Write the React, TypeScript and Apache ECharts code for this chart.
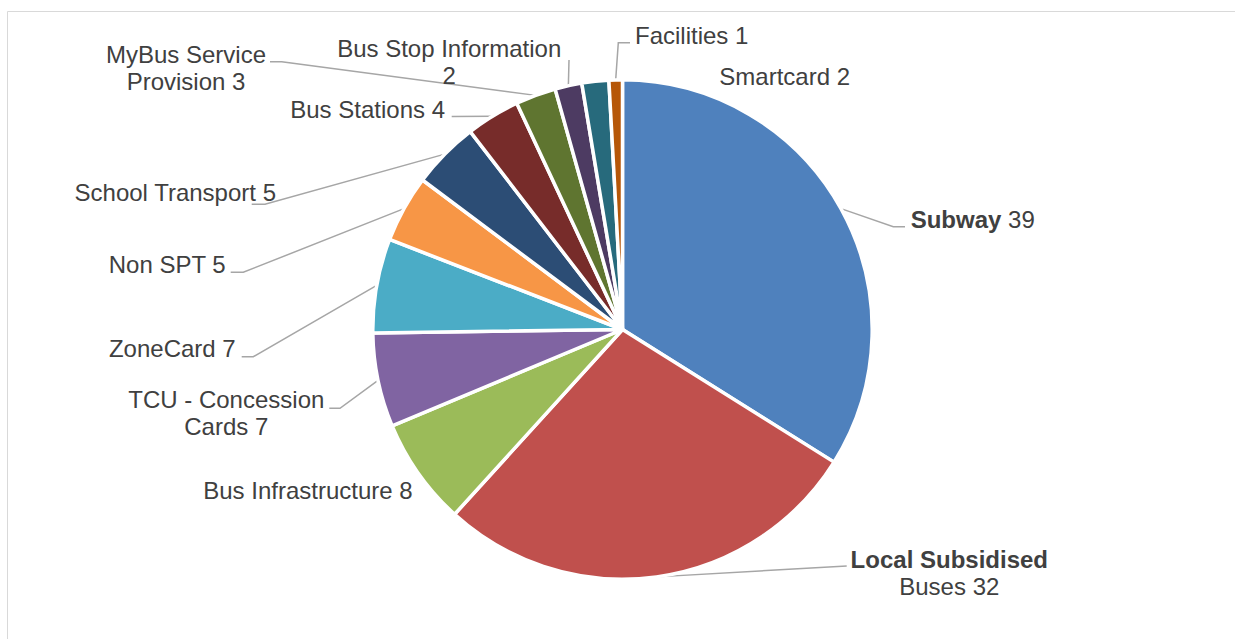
import React, { useEffect, useRef } from 'react';
import * as echarts from 'echarts';

// ---- data ----
const categories = [
  'Subway',
  'Local Subsidised Buses',
  'Bus Infrastructure',
  'TCU - Concession Cards',
  'ZoneCard',
  'Non SPT',
  'School Transport',
  'Bus Stations',
  'MyBus Service Provision',
  'Bus Stop Information',
  'Smartcard',
  'Facilities',
];
const values = [39, 32, 8, 7, 7, 5, 5, 4, 3, 2, 2, 1];

// ---- styles ----
const sliceColors = [
  '#4F81BD', '#C0504D', '#9BBB59', '#8064A2', '#4BACC6', '#F79646',
  '#2C4D75', '#772C2A', '#5F7530', '#4D3B62', '#276A7C', '#B65708',
];
// characters of the label text after which the label wraps (0 = no wrap)
const labelBreakAfter = [0, 16, 0, 16, 0, 0, 0, 0, 13, 20, 0, 0];
// number of leading characters shown in bold
const labelBoldChars = [6, 16, 0, 0, 0, 0, 0, 0, 0, 0, 0, 0];

type Pt = [number, number];
type Anchor = { x: number; y: number; align: 'left' | 'right' | 'center'; line: Pt[] | null };
// label placement (layout only)
const labelAnchors: Anchor[] = [
  { x: 910.7, y: 219, align: 'left', line: [[893.3, 226.7], [905, 226.7]] },
  { x: 949.3, y: 572.5, align: 'center', line: [[846.7, 566]] },
  { x: 412.7, y: 490.8, align: 'right', line: null },
  { x: 226.3, y: 413, align: 'center', line: [[340, 408.3], [329.3, 408.3]] },
  { x: 235.7, y: 348.3, align: 'right', line: [[253.3, 356.7], [241.7, 356.7]] },
  { x: 225.7, y: 264.3, align: 'right', line: [[243.3, 272.3], [230.7, 272.3]] },
  { x: 276, y: 192, align: 'right', line: [[265, 204.3], [251.7, 204.3]] },
  { x: 445, y: 109, align: 'right', line: [[451.7, 116.5]] },
  { x: 186, y: 68, align: 'center', line: [[281.7, 61.7], [270, 61.7]] },
  { x: 449.2, y: 61.7, align: 'center', line: [[569, 60]] },
  { x: 719.3, y: 76, align: 'left', line: null },
  { x: 635, y: 35, align: 'left', line: [[618.3, 42.7], [630, 42.7]] },
];

const FONT = "'Liberation Sans', Arial, sans-serif";
const TEXT_COLOR = '#404040';

function labelText(i: number): string {
  const full = `${categories[i]} ${values[i]}`;
  const br = labelBreakAfter[i];
  const lines = br ? [full.slice(0, br), full.slice(br + 1)] : [full];
  const b = labelBoldChars[i];
  if (b) lines[0] = `{b|${lines[0].slice(0, b)}}${lines[0].slice(b)}`;
  return lines.join('\n');
}

export default function App() {
  const ref = useRef<HTMLDivElement>(null);
  useEffect(() => {
    if (!ref.current) return;
    const chart = echarts.init(ref.current, null, { renderer: 'svg' });
    const data = categories.map((name, i) => {
      const item: any = { name, value: values[i] };
      if (!labelAnchors[i].line) item.labelLine = { show: false };
      return item;
    });
    chart.setOption({
      animation: false,
      backgroundColor: '#ffffff',
      color: sliceColors,
      graphic: [
        {
          type: 'rect',
          shape: { x: 7.5, y: 11.5, width: 1400, height: 800 },
          style: { fill: 'none', stroke: '#d9d9d9', lineWidth: 1 },
          silent: true,
        },
      ],
      series: [
        {
          type: 'pie',
          center: [622.5, 329.5],
          radius: 249.7,
          startAngle: 90,
          clockwise: true,
          avoidLabelOverlap: false,
          emphasis: { disabled: true },
          itemStyle: { borderColor: '#ffffff', borderWidth: 3.5 },
          label: {
            show: true,
            position: 'outside',
            formatter: (p: any) => labelText(p.dataIndex),
            fontFamily: FONT,
            fontSize: 24,
            lineHeight: 27,
            color: TEXT_COLOR,
            rich: {
              b: {
                fontFamily: FONT,
                fontSize: 24,
                lineHeight: 27,
                fontWeight: 'bold',
                color: TEXT_COLOR,
              },
            },
          },
          labelLine: {
            show: true,
            length: 10,
            length2: 10,
            lineStyle: { color: '#a6a6a6', width: 1.5 },
          },
          labelLayout: (p: any) => {
            const a = labelAnchors[p.dataIndex];
            const out: any = { x: a.x, y: a.y, align: a.align, verticalAlign: 'middle' };
            if (a.line && p.labelLinePoints && p.labelLinePoints.length) {
              out.labelLinePoints = [p.labelLinePoints[0], ...a.line];
            }
            return out;
          },
          data,
        },
      ],
    });
    return () => chart.dispose();
  }, []);
  return (
    <div
      ref={ref}
      style={{ position: 'absolute', left: 0, top: 0, width: 1235, height: 639, background: '#fff' }}
    />
  );
}
